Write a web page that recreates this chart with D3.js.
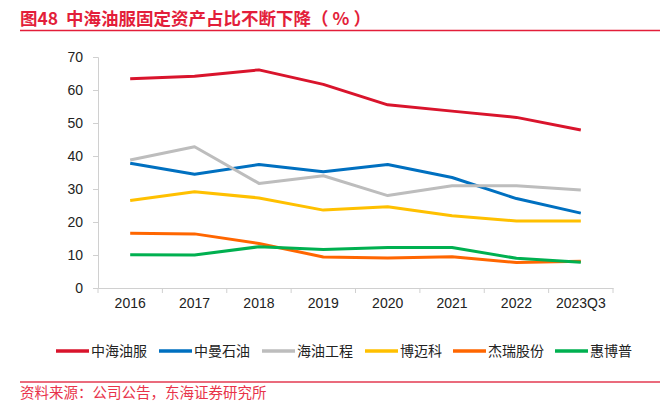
<!DOCTYPE html>
<html>
<head>
<meta charset="utf-8">
<script src="https://cdn.jsdelivr.net/npm/d3@7"></script>
<style>
  body { margin: 0; background: #fff; }
  text { font-family: "Liberation Sans", Arial, sans-serif; }
  .cjk { font-family: "Noto Sans CJK SC", sans-serif; }
</style>
</head>
<body>
<div id="chart"></div>
<script>
// data
var categories = ["2016", "2017", "2018", "2019", "2020", "2021", "2022", "2023Q3"];
var seriesNames = ["中海油服", "中曼石油", "海油工程", "博迈科", "杰瑞股份", "惠博普"];
var seriesColors = ["#d9142c", "#0070c0", "#bdbdbd", "#ffc000", "#ff6600", "#00b050"];
var cosl = [63.4, 64.2, 66.1, 61.7, 55.5, 53.6, 51.7, 47.9];
var zmsy = [37.8, 34.5, 37.4, 35.2, 37.4, 33.5, 27.1, 22.7];
var hygc = [38.8, 42.8, 31.7, 34.0, 28.0, 31.0, 31.0, 29.7];
var bmk = [26.5, 29.2, 27.3, 23.6, 24.6, 21.9, 20.3, 20.3];
var jrgf = [16.6, 16.4, 13.5, 9.4, 9.1, 9.5, 7.7, 8.1];
var hbp = [10.1, 10.0, 12.5, 11.7, 12.3, 12.3, 9.0, 7.8];
var yTicks = [0, 10, 20, 30, 40, 50, 60, 70];

var allSeries = [cosl, zmsy, hygc, bmk, jrgf, hbp];

var svgWidth = 660;
var svgHeight = 417;

var margin = { top: 57, right: 47, bottom: 129, left: 98 };
var width = svgWidth - margin.left - margin.right;
var height = svgHeight - margin.top - margin.bottom;

var svg = d3.select("#chart")
  .append("svg")
  .attr("width", svgWidth)
  .attr("height", svgHeight);

// title + rules
svg.append("text")
  .attr("class", "cjk")
  .attr("x", 20)
  .attr("y", 25)
  .attr("fill", "#e31e3a")
  .attr("font-size", "17.5px")
  .attr("font-weight", "bold")
  .style("white-space", "pre")
  .text("图48  中海油服固定资产占比不断下降（ % ）");

svg.append("line")
  .attr("x1", 20).attr("x2", 660)
  .attr("y1", 30.5).attr("y2", 30.5)
  .attr("stroke", "#e31e3a").attr("stroke-width", 1.5);

svg.append("line")
  .attr("x1", 20).attr("x2", 660)
  .attr("y1", 382).attr("y2", 382)
  .attr("stroke", "#e33a50").attr("stroke-width", 1.5);

svg.append("text")
  .attr("class", "cjk")
  .attr("x", 20)
  .attr("y", 398)
  .attr("fill", "#e8334a")
  .attr("font-size", "14.5px")
  .text("资料来源：公司公告，东海证券研究所");

var chartGroup = svg.append("g")
  .attr("transform", `translate(${margin.left}, ${margin.top})`);

// scales
var xBand = d3.scaleBand()
  .domain(categories)
  .range([0, width]);

var yLinearScale = d3.scaleLinear()
  .domain([0, 70])
  .range([height, 0]);

// y axis
var yAxis = chartGroup.append("g")
  .call(d3.axisLeft(yLinearScale).tickValues(yTicks).tickSize(5).tickPadding(10));
yAxis.selectAll("path, line").attr("stroke", "#d0d0d0");
yAxis.selectAll("text").attr("font-size", "14px").attr("fill", "#222");

// x axis: ticks at band edges
var xAxis = chartGroup.append("g")
  .attr("transform", `translate(0, ${height})`)
  .call(d3.axisBottom(xBand).tickSize(0).tickPadding(10));
xAxis.select("path").attr("stroke", "#d0d0d0");
xAxis.selectAll("text").attr("font-size", "14px").attr("fill", "#222");

var edges = categories.map(c => xBand(c)).concat([width]);
chartGroup.selectAll(".xtick")
  .data(edges)
  .enter()
  .append("line")
  .attr("x1", d => d).attr("x2", d => d)
  .attr("y1", height).attr("y2", height + 5)
  .attr("stroke", "#d0d0d0");

// lines
var line = d3.line()
  .x((d, i) => xBand(categories[i]) + xBand.bandwidth() / 2)
  .y(d => yLinearScale(d));

chartGroup.selectAll(".series")
  .data(allSeries)
  .enter()
  .append("path")
  .attr("d", d => line(d))
  .attr("fill", "none")
  .attr("stroke", (d, i) => seriesColors[i])
  .attr("stroke-width", 3)
  .attr("stroke-linejoin", "round");

// legend
var legendX = [56, 159, 262, 365, 453, 555];
var legend = svg.append("g");
seriesNames.forEach(function(name, i) {
  legend.append("line")
    .attr("x1", legendX[i]).attr("x2", legendX[i] + 33)
    .attr("y1", 351).attr("y2", 351)
    .attr("stroke", seriesColors[i])
    .attr("stroke-width", 3.5);
  legend.append("text")
    .attr("class", "cjk")
    .attr("x", legendX[i] + 35)
    .attr("y", 356)
    .attr("font-size", "14px")
    .attr("fill", "#222")
    .text(name);
});
</script>
</body>
</html>
